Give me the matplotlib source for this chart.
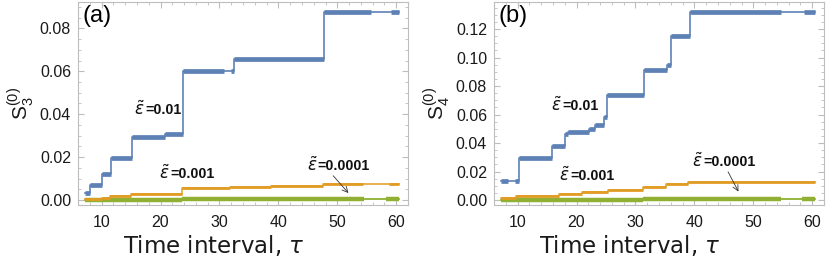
import numpy as np
import matplotlib
matplotlib.use("Agg")
import matplotlib.pyplot as plt
from matplotlib.ticker import MultipleLocator, FormatStrFormatter

plt.rcParams['font.family'] = ['Liberation Sans', 'DejaVu Sans']
plt.rcParams['mathtext.fontset'] = 'dejavusans'

BLUE = '#5e81b5'
ORANGE = '#e19c24'
GREEN = '#8fb032'

# ---- panel (a): S3 ----
a_blue_t = [7.2, 8.0, 10.1, 11.6, 15.2, 20.7, 23.8, 32.4, 47.8, 60.5]
a_blue_v = [0.0034, 0.0068, 0.0123, 0.0194, 0.0295, 0.0310, 0.0603, 0.0658, 0.0877]
a_blue_gaps = [(30.8, 31.9), (55.7, 59.1)]

a_orange_t = [7.2, 8.0, 10.1, 11.5, 15.0, 23.6, 31.8, 38.7, 47.6, 60.5]
a_orange_v = [0.0003, 0.0006, 0.0010, 0.0018, 0.0030, 0.0058, 0.0062, 0.0066, 0.0077]
a_orange_gaps = [(54.4, 58.8)]

a_green_t = [7.2, 23.6, 47.6, 60.5]
a_green_v = [0.0000, 0.0003, 0.0005]
a_green_gaps = [(54.5, 58.2)]

# ---- panel (b): S4 ----
b_blue_t = [7.2, 10.2, 15.8, 18.1, 18.5, 22.1, 23.2, 24.6, 25.1, 31.4, 35.4, 36.0, 39.3, 60.5]
b_blue_v = [0.0135, 0.0295, 0.0378, 0.0460, 0.0480, 0.0496, 0.0530, 0.0580,
            0.0734, 0.0910, 0.0950, 0.1150, 0.1320]
b_blue_gaps = [(8.3, 9.6), (54.7, 58.6)]

b_orange_t = [7.2, 9.8, 17.0, 21.0, 25.3, 31.2, 35.2, 39.0, 60.5]
b_orange_v = [0.0012, 0.0027, 0.0044, 0.0053, 0.0067, 0.0089, 0.0110, 0.0128]
b_orange_gaps = []

b_green_t = [7.2, 31.2, 60.5]
b_green_v = [0.0000, 0.0004]
b_green_gaps = [(54.7, 58.3)]

# curve labels: (tau, value, text)
a_labels = [(17.4, 0.0420, '=0.01'), (21.6, 0.0122, '=0.001'), (46.7, 0.0159, '=0.0001')]
b_labels = [(17.6, 0.0660, '=0.01'), (18.9, 0.0169, '=0.001'), (41.5, 0.0267, '=0.0001')]


def draw_series(ax, t, v, gaps, color, thin, thick):
    ax.step(t, list(v) + [v[-1]], where='post', color=color, lw=thin)
    for i, lev in enumerate(v):
        pieces = [(t[i], t[i + 1])]
        for g0, g1 in gaps:
            new = []
            for s0, s1 in pieces:
                if g1 <= s0 or g0 >= s1:
                    new.append((s0, s1))
                else:
                    if g0 > s0:
                        new.append((s0, g0))
                    if g1 < s1:
                        new.append((g1, s1))
            pieces = new
        for s0, s1 in pieces:
            ax.hlines(lev, s0, s1, color=color, lw=thick)


def style_axes(ax, ylim, label):
    ax.set_xlim(6.0, 62.0)
    ax.set_ylim(*ylim)
    ax.xaxis.set_major_locator(MultipleLocator(10))
    ax.xaxis.set_minor_locator(MultipleLocator(2))
    ax.yaxis.set_major_locator(MultipleLocator(0.02))
    ax.yaxis.set_minor_locator(MultipleLocator(0.005))
    ax.yaxis.set_major_formatter(FormatStrFormatter('%.2f'))
    for s in ax.spines.values():
        s.set_color('#bdbdbd')
        s.set_linewidth(0.8)
    ax.tick_params(which='both', direction='in', top=True, right=True,
                   color='#bdbdbd', labelsize=11.5, labelcolor='#1a1a1a')
    ax.tick_params(axis='x', pad=7)
    ax.tick_params(axis='y', pad=5)
    ax.tick_params(which='major', length=4, width=0.8)
    ax.tick_params(which='minor', length=2, width=0.6)
    ax.set_xlabel(r'Time interval, $\tau$', fontsize=16.5, color='#1a1a1a',
                  family='DejaVu Sans')
    ax.xaxis.set_label_coords(0.41, -0.14)
    ax.set_ylabel(label, fontsize=15, color='#1a1a1a', labelpad=3)


def put_labels(ax, labels):
    for x, y, s in labels:
        ax.annotate(s, (x, y), ha='left', va='center', fontsize=10.3,
                    fontweight='bold', color='#111111')
        ax.annotate(r'$\boldsymbol{\tilde{\varepsilon}}$', (x, y), xytext=(-0.5, 0.5),
                    textcoords='offset points', ha='right', va='center',
                    fontsize=12, color='#111111')


fig = plt.figure(figsize=(8.3, 2.62), dpi=100)
ax1 = fig.add_axes([78 / 830, 57 / 262, 330 / 830, 203 / 262])
ax2 = fig.add_axes([494 / 830, 57 / 262, 330 / 830, 203 / 262])

for ax, series in [
    (ax1, [(a_green_t, a_green_v, a_green_gaps, GREEN, 1.3, 3.2),
           (a_orange_t, a_orange_v, a_orange_gaps, ORANGE, 1.1, 2.0),
           (a_blue_t, a_blue_v, a_blue_gaps, BLUE, 1.2, 3.4)]),
    (ax2, [(b_green_t, b_green_v, b_green_gaps, GREEN, 1.3, 3.2),
           (b_orange_t, b_orange_v, b_orange_gaps, ORANGE, 1.1, 2.0),
           (b_blue_t, b_blue_v, b_blue_gaps, BLUE, 1.2, 3.4)]),
]:
    for t, v, g, c, th, tk in series:
        draw_series(ax, t, v, g, c, th, tk)

style_axes(ax1, (-0.0023, 0.0923), r'$\mathregular{S_3^{(0)}}$')
style_axes(ax2, (-0.0035, 0.139), r'$\mathregular{S_4^{(0)}}$')

ax1.text(0.015, 0.985, '(a)', transform=ax1.transAxes, fontsize=17, va='top', ha='left')
put_labels(ax1, a_labels)
ax1.annotate('', xy=(52.2, 0.0023), xytext=(49.0, 0.0123),
             arrowprops=dict(arrowstyle='->', color='#333333', lw=0.6))

ax2.text(0.015, 0.985, '(b)', transform=ax2.transAxes, fontsize=17, va='top', ha='left')
put_labels(ax2, b_labels)
ax2.annotate('', xy=(47.7, 0.0042), xytext=(45.5, 0.0215),
             arrowprops=dict(arrowstyle='->', color='#333333', lw=0.6))

fig.savefig('out.png', dpi=100)
